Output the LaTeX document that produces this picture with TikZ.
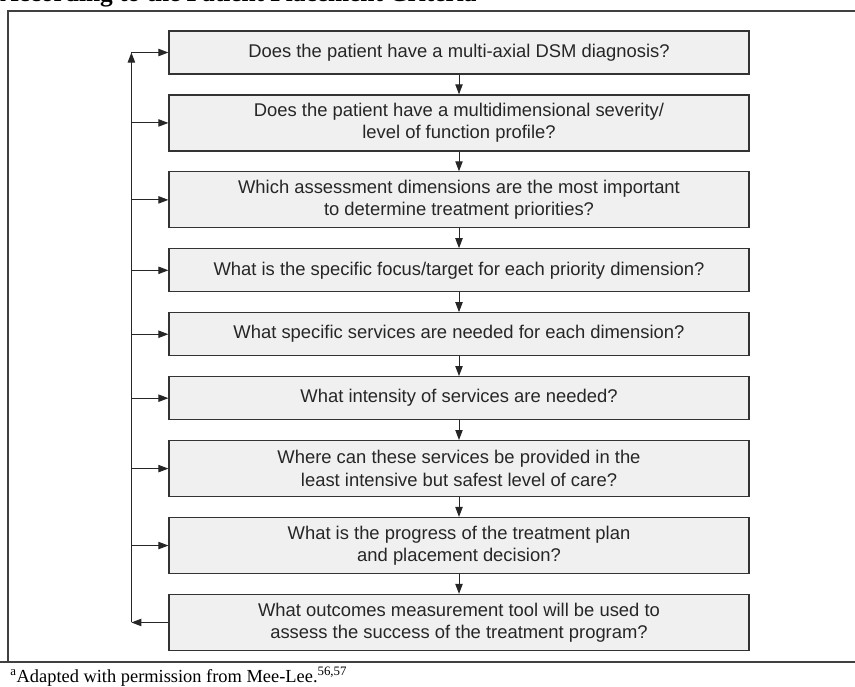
\documentclass[tikz,border=0pt]{standalone}
\usepackage{fontspec}
\setmainfont{Liberation Serif}
\setsansfont{Liberation Sans}
\usetikzlibrary{arrows.meta, positioning}

\begin{document}
\begin{tikzpicture}[
    x=0.75pt, y=-0.75pt,
    question/.style={rectangle, draw=black!80, line width=0.9pt, fill=black!6, minimum width=435pt, minimum height=32.25pt, align=center, text=black!85, font=\sffamily\fontsize{13.8}{16.8}\selectfont},
    tall/.style={minimum height=42pt},
    arrow/.style={-{Triangle[length=7.5pt, width=5.5pt]}, line width=0.75pt, draw=black!85},
    frame/.style={line width=0.9pt, draw=black!75},
    node distance=14.8pt
]
\useasboundingbox (0,0) rectangle (855,686);

% Caption and frame
\node[anchor=base west, inner sep=0pt, font=\bfseries\fontsize{19}{22}\selectfont] (title) at (0,1) {According to the Patient Placement Criteria};
\draw[frame] (8,662) -- (8,11) -- (855,11);
\draw[frame] (0,662) -- (855,662);
\node[anchor=base west, inner sep=0pt, font=\fontsize{13.8}{16}\selectfont] (note) at (10,682) {\textsuperscript{a}Adapted with permission from Mee-Lee.\textsuperscript{56,57}};

% Questions
\node[question] (q1) at (459,52.5) {Does the patient have a multi-axial DSM diagnosis?};
\node[question, tall, below=of q1] (q2) {Does the patient have a multidimensional severity/\\level of function profile?};
\node[question, tall, below=of q2] (q3) {Which assessment dimensions are the most important\\to determine treatment priorities?};
\node[question, below=of q3] (q4) {What is the specific focus/target for each priority dimension?};
\node[question, below=of q4] (q5) {What specific services are needed for each dimension?};
\node[question, below=of q5] (q6) {What intensity of services are needed?};
\node[question, tall, below=of q6] (q7) {Where can these services be provided in the\\least intensive but safest level of care?};
\node[question, tall, below=of q7] (q8) {What is the progress of the treatment plan\\and placement decision?};
\node[question, tall, below=of q8] (q9) {What outcomes measurement tool will be used to\\assess the success of the treatment program?};

\coordinate[left=27.75pt of q9.west] (loopbot);
\coordinate (looptop) at (loopbot |- q1.west);

% Arrows
\draw[arrow] (q1) -- (q2);
\draw[arrow] (q2) -- (q3);
\draw[arrow] (q3) -- (q4);
\draw[arrow] (q4) -- (q5);
\draw[arrow] (q5) -- (q6);
\draw[arrow] (q6) -- (q7);
\draw[arrow] (q7) -- (q8);
\draw[arrow] (q8) -- (q9);

% Feedback loop
\draw[arrow] (q9.west) -- (loopbot);
\draw[arrow] (loopbot) -- (looptop);
\draw[arrow] (looptop) -- (q1.west);
\foreach \i in {2,...,8}
    \draw[arrow] (loopbot |- q\i.west) -- (q\i.west);

\end{tikzpicture}
\end{document}
